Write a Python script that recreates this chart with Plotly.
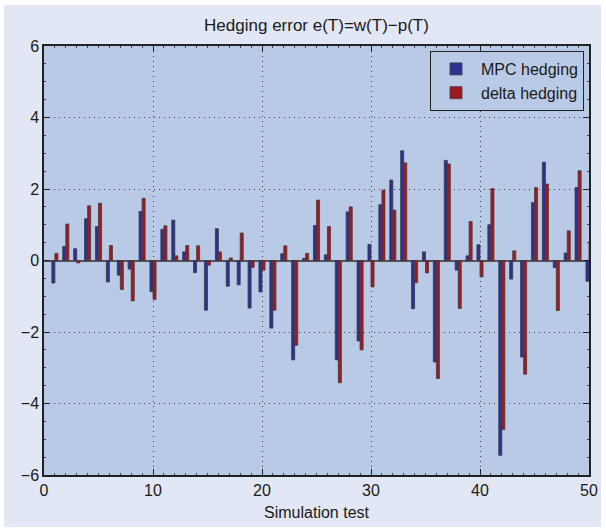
import plotly.graph_objects as go

tests = list(range(1, 51))
mpc_err = [-0.63, 0.39, 0.33, 1.17, 0.95, -0.60, -0.41, -0.24, 1.37, -0.87,
           0.87, 1.13, 0.24, -0.34, -1.39, 0.89, -0.72, -0.68, -1.33, -0.88,
           -1.89, 0.19, -2.78, 0.06, 0.98, 0.16, -2.78, 1.36, -2.25, 0.45,
           1.56, 2.25, 3.07, -1.35, 0.24, -2.84, 2.80, -0.27, 0.13, 0.44,
           1.00, -5.45, -0.52, -2.70, 1.62, 2.75, -0.20, 0.21, 2.04, -0.58]
delta_err = [0.20, 1.02, -0.07, 1.53, 1.60, 0.42, -0.81, -1.13, 1.74, -1.09,
             0.97, 0.13, 0.42, 0.41, -0.13, 0.24, 0.07, 0.77, -0.19, -0.27,
             -1.39, 0.41, -2.37, 0.20, 1.69, 0.95, -3.42, 1.50, -2.50, -0.74,
             1.97, 1.41, 2.73, -0.62, -0.35, -3.30, 2.70, -1.34, 1.09, -0.46,
             2.01, -4.73, 0.27, -3.18, 2.04, 2.14, -1.40, 0.83, 2.51, 0.53]
x_ticks = [0, 10, 20, 30, 40, 50]
y_ticks = [-6, -4, -2, 0, 2, 4, 6]
y_tick_text = ["\u22126", "\u22124", "\u22122", "0", "2", "4", "6"]

FONT = "Liberation Sans, Arial, Helvetica, sans-serif"
PLOT_BG = "#b9cae6"
OUTER_BG = "#e1e7f4"

fig = go.Figure()
fig.add_trace(go.Bar(x=tests, y=mpc_err, name="MPC hedging",
                     marker=dict(color="#2e3190", line=dict(color="#3a3a4a", width=0.8))))
fig.add_trace(go.Bar(x=tests, y=delta_err, name="delta hedging",
                     marker=dict(color="#9e1a22", line=dict(color="#4a3a3a", width=0.8))))

W, H = 606, 528
ml, mr, mt, mb = 44, 17, 46, 53
pw, ph = W - ml - mr, H - mt - mb

def px_x(p):
    return (p - ml) / pw

def px_y(p):
    return (H - mb - p) / ph

fig.update_layout(
    width=W, height=H,
    margin=dict(l=ml, r=mr, t=mt, b=mb, pad=0, autoexpand=False),
    paper_bgcolor="white",
    plot_bgcolor="rgba(0,0,0,0)",
    barmode="group", bargap=0.44, bargroupgap=0.0,
    font=dict(family=FONT, size=16, color="#1a1a1a"),
    title=dict(text="Hedging error e(T)=w(T)\u2212p(T)", x=0.5, xref="paper",
               y=1 - 25 / H, yref="container", yanchor="middle",
               font=dict(size=17, color="#1a1a1a")),
    showlegend=True,
    legend=dict(x=px_x(584), y=px_y(51), xanchor="right", yanchor="top",
                bgcolor=PLOT_BG, bordercolor="#222", borderwidth=1,
                font=dict(size=16), tracegroupgap=0, itemwidth=40),
    shapes=[
        dict(type="rect", xref="paper", yref="paper", layer="below",
             x0=px_x(4), x1=px_x(601), y0=px_y(527), y1=px_y(5),
             fillcolor=OUTER_BG, line=dict(width=0)),
        dict(type="rect", xref="paper", yref="paper", layer="below",
             x0=0, x1=1, y0=0, y1=1,
             fillcolor=PLOT_BG, line=dict(width=0)),
    ],
)

fig.update_xaxes(range=[0, 50], tickvals=x_ticks, ticks="inside", ticklen=6,
                 tickcolor="#222", showline=True, linecolor="#222", linewidth=1.5,
                 mirror="allticks", showgrid=True, gridcolor="#444",
                 griddash="1px,4px", gridwidth=1, zeroline=False, automargin=False,
                 minor=dict(dtick=1, ticks="inside", ticklen=2, tickcolor="#444", showgrid=False),
                 title=dict(text="Simulation test", standoff=9, font=dict(size=16)),
                 tickfont=dict(size=16))
fig.update_yaxes(range=[-6, 6], tickvals=y_ticks, ticktext=y_tick_text,
                 ticks="inside", ticklen=6, tickcolor="#222", showline=True,
                 linecolor="#222", linewidth=1.5, mirror="allticks", automargin=False,
                 showgrid=True, gridcolor="#444", griddash="1px,4px", gridwidth=1,
                 zeroline=True, zerolinecolor="#555", zerolinewidth=2,
                 minor=dict(dtick=0.5, ticks="inside", ticklen=2, tickcolor="#444", showgrid=False),
                 tickfont=dict(size=16))

fig.write_html("out.html")
